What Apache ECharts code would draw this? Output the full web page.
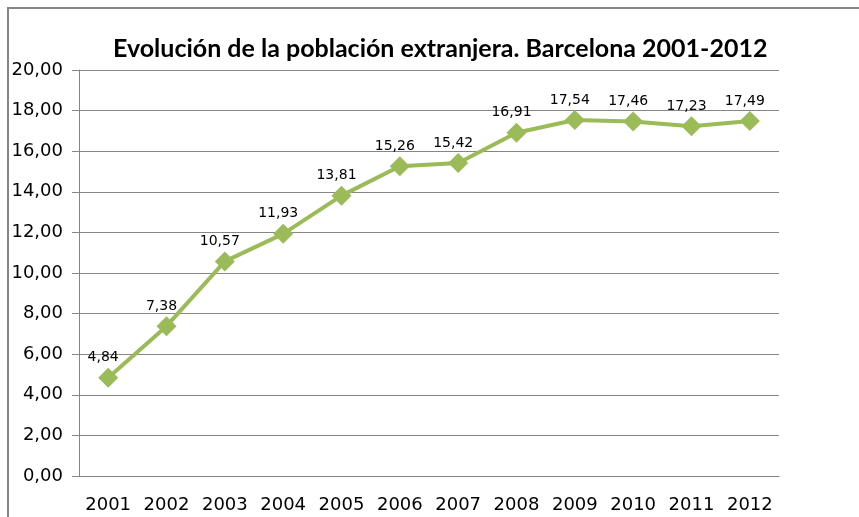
<!DOCTYPE html>
<html>
<head>
<meta charset="utf-8">
<script src="https://cdn.jsdelivr.net/npm/echarts@6/dist/echarts.min.js"></script>
<style>
  html, body { margin: 0; padding: 0; background: #fff; }
  #chart { width: 859px; height: 517px; }
</style>
</head>
<body>
<div id="chart"></div>
<script>
var years = ['2001', '2002', '2003', '2004', '2005', '2006', '2007', '2008', '2009', '2010', '2011', '2012'];
var porcentaje = [4.84, 7.38, 10.57, 11.93, 13.81, 15.26, 15.42, 16.91, 17.54, 17.46, 17.23, 17.49];

var chart = echarts.init(document.getElementById('chart'));

function coma(v, d) {
    return v.toFixed(d).replace('.', ',');
}

chart.setOption({
    animation: false,
    title: {
        text: 'Evolución de la población extranjera. Barcelona 2001-2012',
        left: 108,
        top: 31,
        textStyle: {
            fontFamily: 'Lato',
            fontWeight: 'bold',
            fontSize: 25,
            color: '#000'
        }
    },
    // marco del gráfico
    graphic: [{
        type: 'rect',
        shape: { x: 8, y: 8, width: 900, height: 600 },
        style: { fill: 'none', stroke: '#868686', lineWidth: 2 }
    }],
    grid: {
        left: 79,
        right: 80,
        top: 70,
        bottom: 41
    },
    xAxis: {
        type: 'category',
        data: years,
        boundaryGap: true,
        axisLine: { lineStyle: { color: '#868686', width: 1 } },
        axisTick: { length: 6, lineStyle: { color: '#868686' } },
        axisLabel: {
            interval: 0,
            margin: 20,
            fontFamily: 'DejaVu Sans',
            fontSize: 18,
            color: '#000'
        }
    },
    yAxis: {
        type: 'value',
        min: 0,
        max: 20,
        interval: 2,
        axisLine: { show: true, lineStyle: { color: '#868686', width: 1 } },
        axisTick: { show: true, length: 7, lineStyle: { color: '#868686' } },
        splitLine: { lineStyle: { color: '#868686', width: 1 } },
        axisLabel: {
            margin: 16,
            fontFamily: 'DejaVu Sans',
            fontSize: 18,
            color: '#000',
            formatter: function (v) { return coma(v, 2); }
        }
    },
    series: [{
        type: 'line',
        data: porcentaje,
        symbol: 'diamond',
        symbolSize: 20,
        lineStyle: { color: '#9BBB59', width: 4 },
        itemStyle: { color: '#9BBB59' },
        label: {
            show: true,
            position: 'top',
            distance: 3,
            offset: [-5, 0],
            fontFamily: 'DejaVu Sans',
            fontSize: 14,
            color: '#000',
            formatter: function (p) { return coma(p.value, 2); }
        }
    }]
});

window.addEventListener('resize', function () {
    chart.resize();
});
</script>
</body>
</html>
